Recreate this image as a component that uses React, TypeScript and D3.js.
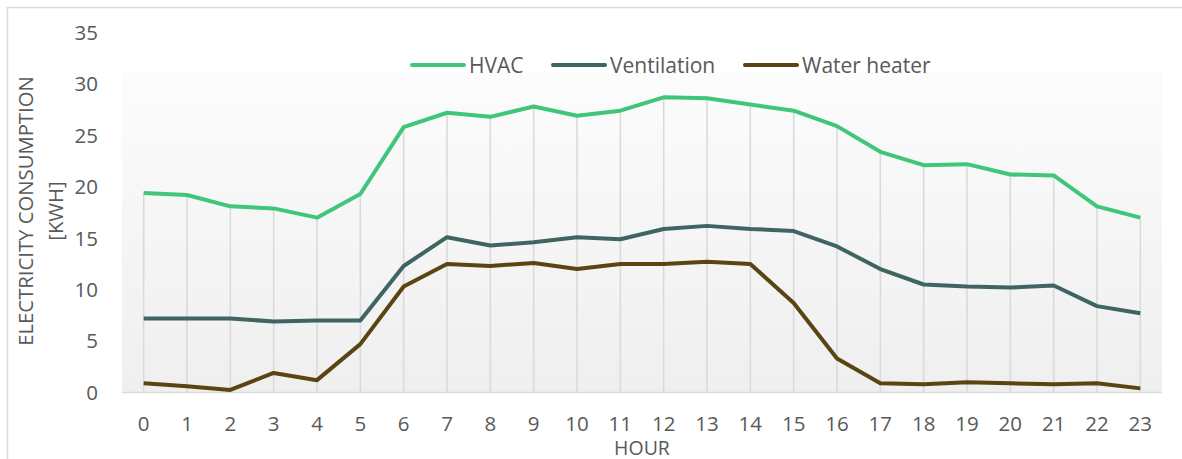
import React, { useEffect, useRef } from "react";
import * as d3 from "d3";

const hours = d3.range(0, 24).map(String);
const hvac = [19.4, 19.2, 18.1, 17.9, 17.0, 19.3, 25.8, 27.2, 26.8, 27.8, 26.9, 27.4, 28.7, 28.6, 28.0, 27.4, 25.9, 23.4, 22.1, 22.2, 21.2, 21.1, 18.1, 17.0];
const ventilation = [7.2, 7.2, 7.2, 6.9, 7.0, 7.0, 12.3, 15.1, 14.3, 14.6, 15.1, 14.9, 15.9, 16.2, 15.9, 15.7, 14.2, 12.0, 10.5, 10.3, 10.2, 10.4, 8.4, 7.7];
const waterHeater = [0.9, 0.6, 0.25, 1.9, 1.2, 4.7, 10.3, 12.5, 12.3, 12.6, 12.0, 12.5, 12.5, 12.7, 12.5, 8.7, 3.3, 0.9, 0.8, 1.0, 0.9, 0.8, 0.9, 0.4];
const yTicks = [0, 5, 10, 15, 20, 25, 30, 35];
const seriesNames = ["HVAC", "Ventilation", "Water heater"];
const seriesColors = ["#3fc67b", "#3f6562", "#5a4412"];

export default function App() {
  const ref = useRef<SVGSVGElement>(null);
  useEffect(() => {
    const svg = d3.select(ref.current);
    svg.selectAll("*").remove();
    const W = 1182, H = 459;
    const left = 122, right = 1162, top = 32.5, bottom = 392.5;
    const font = "'Open Sans', sans-serif";
    const textColor = "#595959";

    // outer border
    svg.append("rect").attr("x", 7.5).attr("y", 7.5).attr("width", W + 20).attr("height", H + 20)
      .attr("fill", "#fff").attr("stroke", "#d9d9d9").attr("stroke-width", 1.5);

    const x = d3.scalePoint<string>().domain(hours).range([left, right]).padding(0.5);
    const y = d3.scaleLinear().domain([0, 35]).range([bottom, top]);

    const defs = svg.append("defs");
    const grad = defs.append("linearGradient").attr("id", "bg").attr("x1", 0).attr("y1", 0).attr("x2", 0).attr("y2", 1);
    grad.append("stop").attr("offset", "0%").attr("stop-color", "#fcfcfc");
    grad.append("stop").attr("offset", "100%").attr("stop-color", "#efefef");
    svg.append("rect").attr("x", left).attr("y", 72.5).attr("width", right - left).attr("height", bottom - 72.5)
      .attr("fill", "url(#bg)");

    // drop lines
    svg.append("g").selectAll("line").data(hours).join("line")
      .attr("x1", d => x(d)!).attr("x2", d => x(d)!)
      .attr("y1", (d, i) => y(hvac[i])).attr("y2", y(0))
      .attr("stroke", "#d9d9d9").attr("stroke-width", 1.5);

    // x axis line
    svg.append("line").attr("x1", left).attr("x2", right).attr("y1", y(0)).attr("y2", y(0))
      .attr("stroke", "#d9d9d9").attr("stroke-width", 1.5);

    // y ticks
    svg.append("g").selectAll("text").data(yTicks).join("text")
      .attr("x", 98).attr("y", d => y(d)).attr("dy", "0.36em").attr("text-anchor", "end")
      .attr("font-family", font).attr("font-size", 20.5).attr("fill", textColor).text(d => d);

    // x ticks
    svg.append("g").selectAll("text").data(hours).join("text")
      .attr("x", d => x(d)!).attr("y", 424).attr("dy", "0.36em").attr("text-anchor", "middle")
      .attr("font-family", font).attr("font-size", 20.5).attr("fill", textColor).text(d => d);

    // axis titles
    svg.append("text").attr("x", (left + right) / 2).attr("y", 448).attr("dy", "0.36em").attr("text-anchor", "middle")
      .attr("font-family", font).attr("font-size", 19.5).attr("fill", textColor).text("HOUR");
    const yt = svg.append("g").attr("transform", "translate(0,211) rotate(-90)");
    yt.append("text").attr("x", 0).attr("y", 26).attr("dy", "0.36em").attr("text-anchor", "middle")
      .attr("font-family", font).attr("font-size", 20.3).attr("fill", textColor).text("ELECTRICITY CONSUMPTION");
    yt.append("text").attr("x", 0).attr("y", 56).attr("dy", "0.36em").attr("text-anchor", "middle")
      .attr("font-family", font).attr("font-size", 20.3).attr("fill", textColor).text("[KWH]");

    // lines
    const line = d3.line<number>().x((d, i) => x(hours[i])!).y(d => y(d));
    [hvac, ventilation, waterHeater].forEach((s, k) => {
      svg.append("path").datum(s).attr("d", line).attr("fill", "none")
        .attr("stroke", seriesColors[k]).attr("stroke-width", 4).attr("stroke-linejoin", "round");
    });

    // legend
    const legendX = [411, 552, 744];
    seriesNames.forEach((n, k) => {
      const g = svg.append("g").attr("transform", `translate(${legendX[k]},65)`);
      g.append("line").attr("x1", 1).attr("x2", 53).attr("y1", 0).attr("y2", 0)
        .attr("stroke", seriesColors[k]).attr("stroke-width", 4).attr("stroke-linecap", "round");
      g.append("text").attr("x", 58).attr("y", 0).attr("dy", "0.36em")
        .attr("font-family", font).attr("font-size", 21).attr("fill", textColor).text(n);
    });
  }, []);
  return <svg ref={ref} width={1182} height={459} style={{ position: "absolute", left: 0, top: 0 }} />;
}
